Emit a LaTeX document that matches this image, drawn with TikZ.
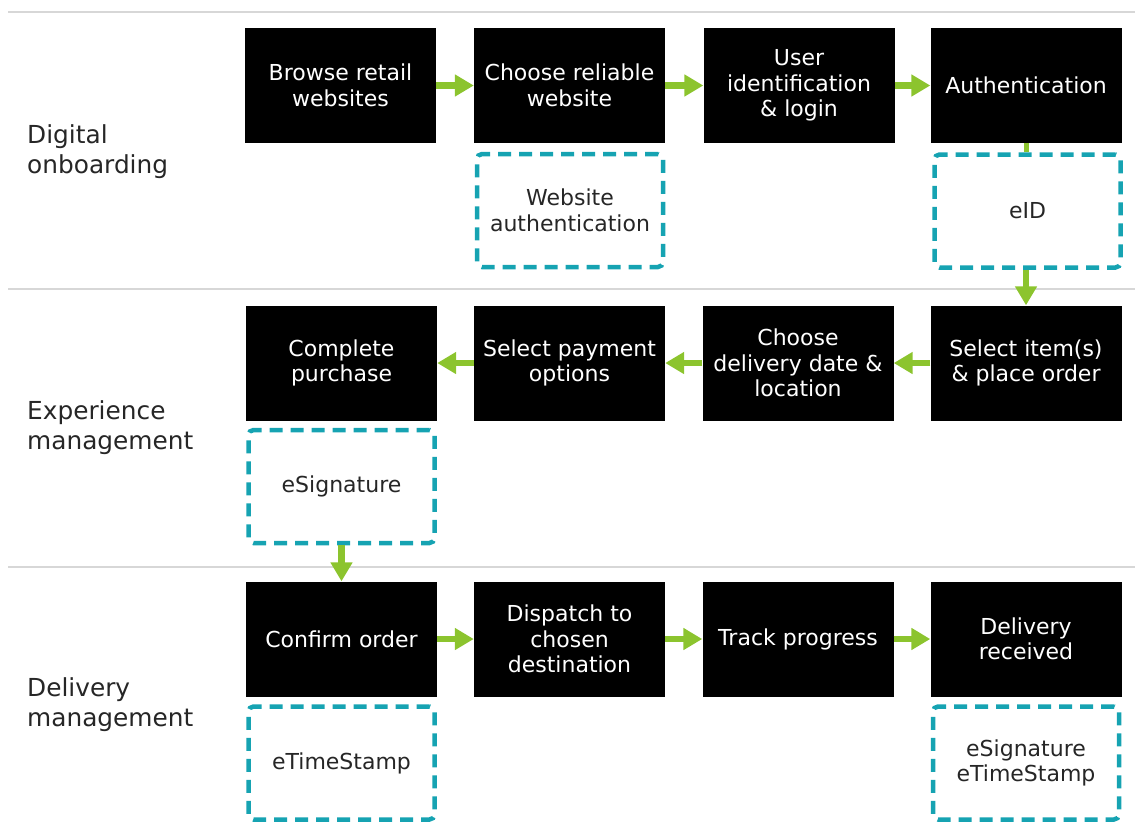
\documentclass[tikz,border=0pt]{standalone}
\usepackage{fontspec}
\setmainfont{DejaVu Sans}
\usetikzlibrary{arrows.meta}
\definecolor{arrgreen}{RGB}{140,196,46}
\definecolor{dteal}{RGB}{22,163,178}
\definecolor{sepgray}{RGB}{215,215,215}
\tikzset{
  blk/.style={fill=black, text=white, minimum width=191, minimum height=115, inner sep=0pt, align=center, font=\fontsize{22}{25.5}\selectfont},
  dbox/.style={draw=dteal, line width=4.5pt, dash pattern=on 13pt off 8pt, rounded corners=5pt, minimum width=186, minimum height=113, inner sep=0pt, align=center, text=black!85, font=\fontsize{22}{25.5}\selectfont},
  lane/.style={anchor=west, align=left, inner sep=0pt, text=black!85, font=\fontsize{24.8}{30}\selectfont},
  sep/.style={draw=sepgray, line width=1.5pt},
  arr/.style={draw=arrgreen, line width=6.5pt, -{Triangle[width=21pt,length=19pt]}},
  lnk/.style={draw=arrgreen, line width=5pt}
}
\begin{document}
\begin{tikzpicture}[x=1pt,y=-1pt]
\useasboundingbox (0,0) rectangle (1135,839);
% separators
\coordinate (s1a) at (8,12); \coordinate (s1b) at (1135,12);
\coordinate (s2a) at (8,289); \coordinate (s2b) at (1135,289);
\coordinate (s3a) at (8,567); \coordinate (s3b) at (1135,567);
\draw[sep] (s1a) -- (s1b);
\draw[sep] (s2a) -- (s2b);
\draw[sep] (s3a) -- (s3b);
% lane labels
\node[lane] (l1) at (27,152) {Digital\\onboarding};
\node[lane] (l2) at (27,428) {Experience\\management};
\node[lane] (l3) at (27,705) {Delivery\\management};
% row 1
\node[blk] (a1) at (340.5,85.5) {Browse retail\\websites};
\node[blk] (a2) at (569.5,85.5) {Choose reliable\\website};
\node[blk] (a3) at (799,85.5) {User\\identification\\\& login};
\node[blk] (a4) at (1026,85.5) {Authentication};
\node[dbox] (d1) at (570,210.5) {Website\\authentication};
\node[dbox] (d2) at (1027.5,211) {eID};
% row 2
\node[blk] (b1) at (341.5,363) {Complete\\purchase};
\node[blk] (b2) at (569.5,363) {Select payment\\options};
\node[blk] (b3) at (798,363) {Choose\\delivery date \&\\location};
\node[blk] (b4) at (1026,363) {Select item(s)\\\& place order};
\node[dbox] (d3) at (341.5,486.5) {eSignature};
% row 3
\node[blk] (c1) at (341.5,639) {Confirm order};
\node[blk] (c2) at (569.5,639) {Dispatch to\\chosen\\destination};
\node[blk] (c3) at (798,639) {Track progress};
\node[blk] (c4) at (1026,639) {Delivery\\received};
\node[dbox] (d4) at (341.5,763) {eTimeStamp};
\node[dbox] (d5) at (1026,763) {eSignature\\eTimeStamp};
% connectors
\draw[arr] (a1) -- (a2);
\draw[arr] (a2) -- (a3);
\draw[arr] (a3) -- (a4);
\draw[lnk] (a4.south) -- (d2.north -| a4.south);
\draw[arr] (d2.south -| b4.north) -- (b4.north);
\draw[arr] (b4) -- (b3);
\draw[arr] (b3) -- (b2);
\draw[arr] (b2) -- (b1);
\draw[arr] (d3.south) -- (c1.north);
\draw[arr] (c1) -- (c2);
\draw[arr] (c2) -- (c3);
\draw[arr] (c3) -- (c4);
\end{tikzpicture}
\end{document}
